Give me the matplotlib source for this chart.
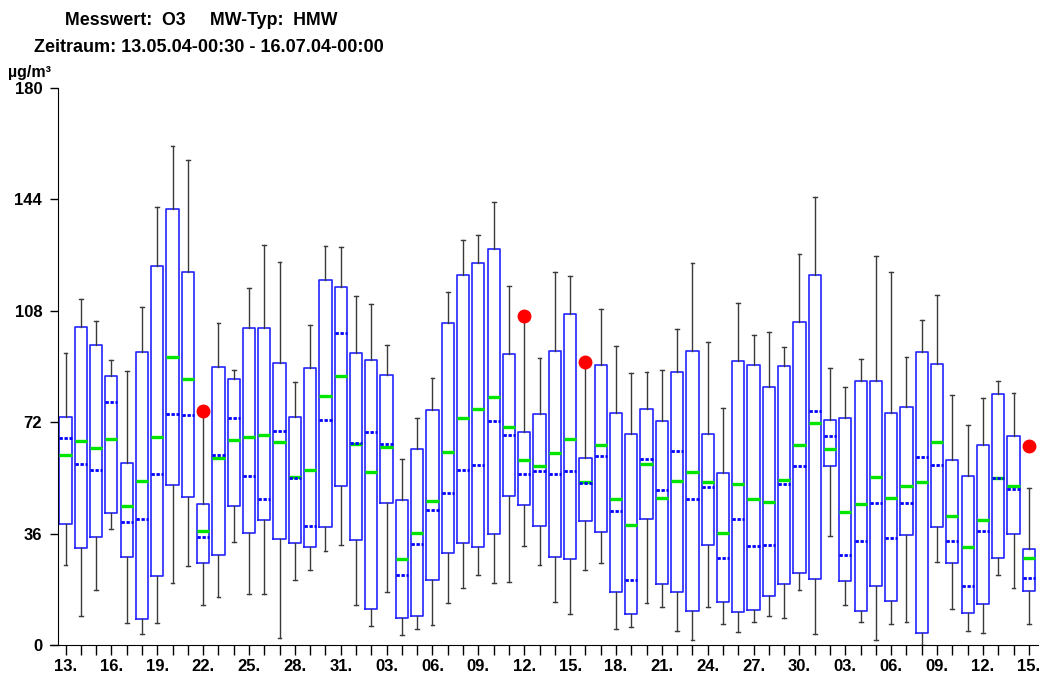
import matplotlib
matplotlib.use("Agg")
import matplotlib.pyplot as plt

# === Daten ===
whislo = [26.0, 9.5, 17.8, 37.5, 7.2, 3.7, 7.2, 20.0, 25.5, 12.9,
          15.5, 33.3, 16.5, 16.5, 2.2, 21.1, 24.1, 30.5, 32.3, 13.0,
          6.2, 17.1, 3.3, 5.3, 6.6, 13.5, 18.3, 22.5, 20.1, 20.4,
          31.9, 25.8, 13.9, 9.9, 24.2, 26.6, 5.1, 5.9, 13.5, 12.4,
          4.4, 1.5, 12.4, 6.9, 4.2, 7.4, 9.3, 8.7, 17.7, 3.6,
          35.3, 12.8, 7.3, 1.6, 6.8, 7.5, 0.0, 26.7, 11.7, 4.5,
          4.0, 22.7, 18.5, 6.9]
q1 = [39.1, 31.5, 34.9, 42.6, 28.5, 8.5, 22.3, 51.6, 47.9, 26.5,
      29.0, 45.0, 36.3, 40.4, 34.3, 32.9, 31.6, 38.0, 51.3, 33.8,
      11.5, 45.9, 8.7, 9.3, 20.9, 29.8, 32.9, 31.8, 35.8, 48.2,
      45.1, 38.5, 28.5, 27.7, 40.0, 36.5, 17.1, 10.0, 40.6, 19.7,
      17.0, 11.1, 32.2, 13.8, 10.7, 11.3, 15.9, 19.7, 23.2, 21.2,
      57.9, 20.8, 11.0, 19.0, 14.3, 35.5, 3.8, 38.0, 26.4, 10.2,
      13.1, 28.2, 35.8, 17.5]
median = [61.4, 66.0, 63.8, 66.5, 44.9, 53.0, 67.1, 93.0, 86.1, 36.7,
          60.4, 66.3, 67.1, 67.8, 65.5, 54.4, 56.6, 80.5, 86.9, 64.9,
          55.8, 63.9, 27.9, 36.3, 46.4, 62.3, 73.3, 76.2, 80.3, 70.6,
          59.7, 57.8, 62.0, 66.7, 52.7, 64.6, 47.2, 38.8, 58.6, 47.6,
          53.1, 55.8, 52.7, 36.3, 52.1, 47.1, 46.3, 53.2, 64.6, 71.8,
          63.5, 43.1, 45.5, 54.4, 47.6, 51.5, 52.7, 65.6, 41.7, 31.8,
          40.4, 53.9, 51.4, 28.1]
mean = [67.0, 58.5, 56.5, 78.5, 39.7, 40.7, 55.2, 74.7, 74.2, 35.0,
        61.5, 73.2, 54.7, 47.3, 69.2, 53.9, 38.6, 72.7, 100.7, 65.3,
        68.7, 65.0, 22.7, 32.8, 43.7, 49.0, 56.5, 58.3, 72.4, 67.9,
        55.4, 56.3, 55.4, 56.1, 52.3, 61.0, 43.4, 20.9, 60.0, 50.2,
        62.6, 47.1, 51.2, 28.0, 40.8, 32.0, 32.2, 52.0, 58.0, 75.7,
        67.5, 29.1, 33.5, 45.8, 34.6, 45.8, 60.9, 58.1, 33.7, 19.2,
        36.9, 53.9, 50.5, 21.8]
q3 = [73.6, 102.9, 97.1, 86.9, 58.7, 94.8, 122.6, 140.9, 120.4, 45.6,
      90.0, 85.8, 102.6, 102.6, 91.2, 73.7, 89.5, 118.0, 115.8, 94.4,
      92.1, 87.4, 46.8, 63.5, 75.9, 104.1, 119.5, 123.6, 127.9, 94.1,
      68.9, 74.6, 94.9, 107.1, 60.3, 90.5, 74.9, 68.3, 76.4, 72.4,
      88.1, 95.0, 68.2, 55.5, 91.7, 90.6, 83.4, 90.3, 104.5, 119.5,
      72.7, 73.3, 85.4, 85.3, 74.9, 76.8, 94.6, 90.7, 59.7, 54.7,
      64.7, 81.0, 67.5, 30.9]
whishi = [94.3, 111.9, 104.7, 92.0, 88.7, 109.2, 141.7, 161.2, 156.6, 74.3,
          103.9, 89.0, 115.4, 129.4, 123.8, 85.1, 103.3, 129.0, 128.7, 112.9,
          110.1, 97.0, 60.1, 73.2, 86.4, 114.0, 130.8, 132.4, 143.0, 116.1,
          104.9, 92.7, 120.7, 119.3, 90.5, 108.5, 96.6, 87.8, 88.1, 88.8,
          102.1, 123.4, 97.8, 76.5, 110.5, 100.1, 101.1, 96.4, 126.4, 144.9,
          89.5, 83.5, 92.4, 125.8, 120.6, 93.1, 105.1, 113.2, 80.9, 71.1,
          79.7, 85.4, 81.3, 50.8]
# Ausreißer (Index -> Wert)
outliers = {9: 75.7, 30: 106.3, 34: 91.6, 63: 64.3}

tick_labels = ["13.", "16.", "19.", "22.", "25.", "28.", "31.", "03.", "06.", "09.", "12.",
               "15.", "18.", "21.", "24.", "27.", "30.", "03.", "06.", "09.", "12.", "15."]
y_ticks = [0, 36, 72, 108, 144, 180]

FONT = "Liberation Sans"
W, H = 1044, 675

# === Zeichnen ===
fig = plt.figure(figsize=(W / 100, H / 100), dpi=100)
ax = fig.add_axes([50 / W, 30 / H, 988 / W, 557 / H])

stats = []
for i in range(len(median)):
    stats.append({
        "med": median[i], "q1": q1[i], "q3": q3[i],
        "whislo": whislo[i], "whishi": whishi[i], "mean": mean[i],
        "fliers": [outliers[i]] if i in outliers else [],
    })

ax.bxp(stats, positions=range(len(stats)), widths=0.8, capwidths=0.25,
       showmeans=True, meanline=True, manage_ticks=False,
       boxprops=dict(color="#2424ff", linewidth=1.2),
       whiskerprops=dict(color="#3a3a3a", linewidth=1.0),
       capprops=dict(color="#3a3a3a", linewidth=1.0),
       medianprops=dict(color="#00e600", linewidth=2.4, solid_capstyle="butt"),
       meanprops=dict(color="#0000ff", linewidth=2.0, linestyle=(0, (1.2, 0.6))),
       flierprops=dict(marker="o", markerfacecolor="#ff0000", markeredgecolor="#ff0000",
                       markersize=9))

ax.set_xlim(-1.014, 63.6)
ax.set_ylim(0, 180)
ax.spines["top"].set_visible(False)
ax.spines["right"].set_visible(False)
ax.spines["left"].set_position(("data", -0.523))
ax.spines["left"].set_bounds(0, 180)

ax.set_xticks(range(len(stats)), minor=True)
ax.set_xticks(range(0, len(stats), 3))
ax.set_xticklabels(tick_labels)
ax.tick_params(axis="x", which="both", direction="out", length=7, width=1, pad=3)
ax.set_yticks(y_ticks)
ax.tick_params(axis="y", direction="out", length=6, width=1, pad=5)
for lab in ax.get_xticklabels() + ax.get_yticklabels():
    lab.set_fontfamily(FONT)
    lab.set_fontweight("bold")
    lab.set_fontsize(12)

fig.text(65 / W, 1 - 25 / H, "Messwert:  O3     MW-Typ:  HMW", fontfamily=FONT,
         fontweight="bold", fontsize=12.8, va="baseline")
fig.text(34 / W, 1 - 52 / H, "Zeitraum: 13.05.04-00:30 - 16.07.04-00:00", fontfamily=FONT,
         fontweight="bold", fontsize=13, va="baseline")
fig.text(8 / W, 1 - 77 / H, "µg/m³", fontfamily=FONT, fontweight="bold",
         fontsize=11.5, va="baseline")

fig.savefig("out.png", dpi=100)
